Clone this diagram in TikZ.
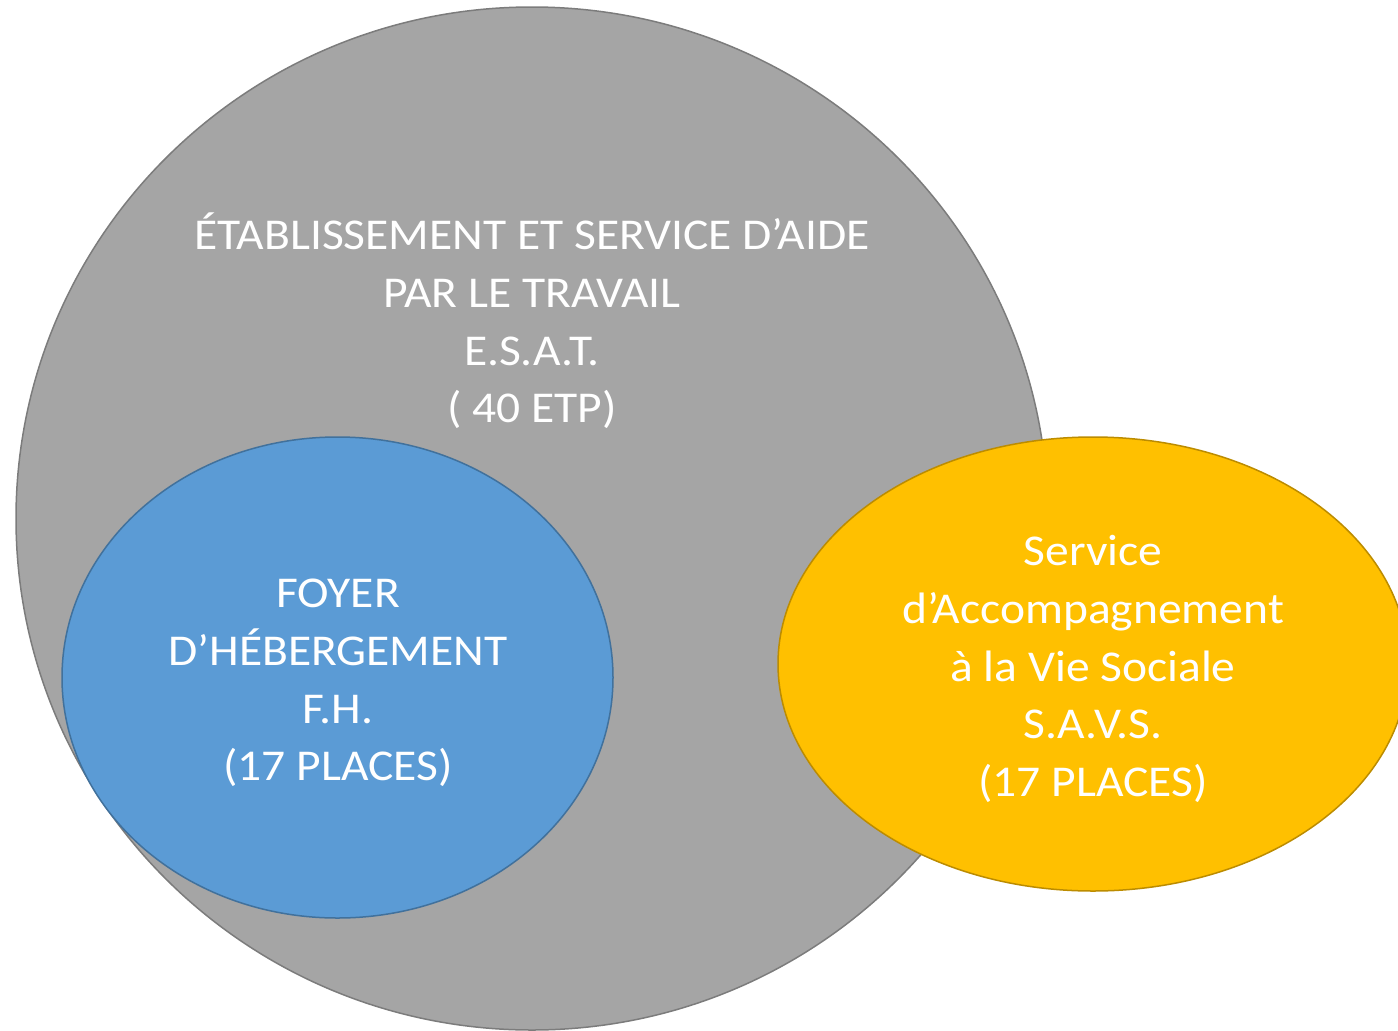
\documentclass[tikz,border=0pt]{standalone}
\usepackage{fontspec}
\setmainfont{Carlito}
\newfontfamily\labelfont[FakeStretch=1.08]{Carlito}
\usetikzlibrary{shapes.geometric}
\definecolor{esatfill}{HTML}{A5A5A5}
\definecolor{esatline}{HTML}{7C7C7C}
\definecolor{fhfill}{HTML}{5B9BD5}
\definecolor{fhline}{HTML}{41719C}
\definecolor{savsfill}{HTML}{FFC000}
\definecolor{savsline}{HTML}{BC8C00}
\tikzset{
  blob/.style={ellipse, inner sep=0pt, outer sep=0pt, line width=1.5pt},
  label/.style={text=white, align=center, font=\labelfont\fontsize{44}{57.6}\selectfont, inner sep=0pt}
}
\begin{document}
\begin{tikzpicture}[x=1pt,y=-1pt]
\useasboundingbox (0,0) rectangle (1398,1031);
\begin{scope}
\clip (0,0) rectangle (1398,1031);
\node[blob, fill=esatfill, draw=esatline, minimum width=1032pt, minimum height=1023pt] (esat) at (532,518.5) {};
\node[blob, fill=fhfill, draw=fhline, minimum width=551pt, minimum height=481pt] (fh) at (337.5,677.5) {};
\node[blob, fill=savsfill, draw=savsline, minimum width=630pt, minimum height=454pt] (savs) at (1093,664) {};
\end{scope}
\node[label] (esattxt) at (532,321) {ÉTABLISSEMENT ET SERVICE D’AIDE\\PAR LE TRAVAIL\\E.S.A.T.\\( 40 ETP)};
\node[label] (fhtxt) at (338,683) {FOYER\\D’HÉBERGEMENT\\F.H.\\(17 PLACES)};
\node[label] (savstxt) at (1093,669) {Service\\d’Accompagnement\\à la Vie Sociale\\S.A.V.S.\\(17 PLACES)};
\end{tikzpicture}
\end{document}
